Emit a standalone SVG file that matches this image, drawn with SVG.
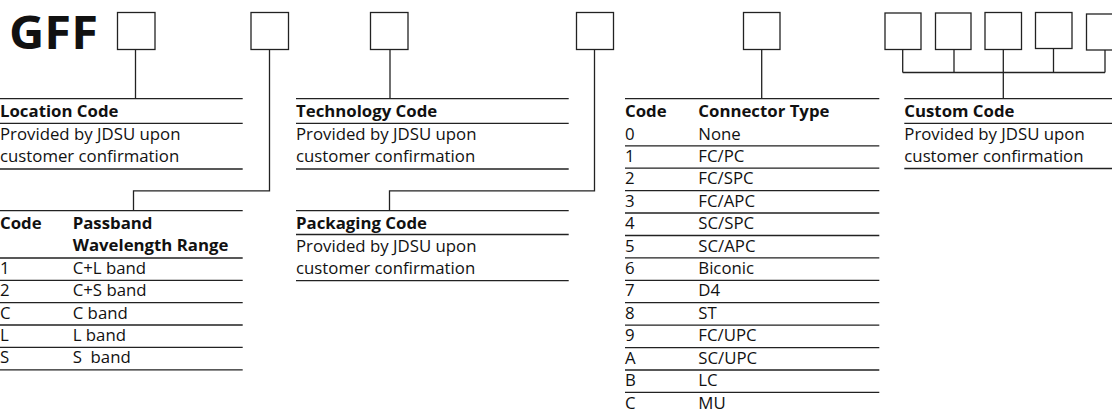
<svg xmlns="http://www.w3.org/2000/svg" width="1112" height="412" viewBox="0 0 1112 412">
<style>
text{font-family:"Open Sans","Noto Sans","Liberation Sans",sans-serif;font-size:16.8px;fill:#111}
.b{font-weight:bold}
.t{font-family:"Open Sans","Noto Sans","Liberation Sans",sans-serif;font-size:46px;font-weight:bold}
.box{fill:#fff;stroke:#222;stroke-width:1.3}
.ln{stroke:#222;stroke-width:1.3;fill:none}
</style>
<rect width="1112" height="412" fill="#fff"/>
<text class="t" x="9" y="48.5" textLength="89" lengthAdjust="spacingAndGlyphs">GFF</text>
<g id="boxes">
<rect class="box" x="117.5" y="12.5" width="37.5" height="37"/>
<rect class="box" x="251" y="12.5" width="37.5" height="37"/>
<rect class="box" x="370.5" y="12.5" width="37.5" height="37"/>
<rect class="box" x="576.5" y="12.5" width="37" height="37"/>
<rect class="box" x="743.5" y="12.5" width="36.5" height="37"/>
<rect class="box" x="885" y="13" width="36" height="36.5"/>
<rect class="box" x="935.5" y="13" width="35.5" height="36.5"/>
<rect class="box" x="985" y="12.5" width="36.5" height="37"/>
<rect class="box" x="1035.5" y="12.5" width="36.5" height="36"/>
<rect class="box" x="1086.5" y="14" width="36" height="36"/>
</g>
<g id="connectors">
<path class="ln" d="M135.5 49.5V98.7"/>
<path class="ln" d="M269.5 49.5V190.8H133.5V210.7"/>
<path class="ln" d="M390 49.5V98.7"/>
<path class="ln" d="M594.5 49.5V190.8H389.5V210.7"/>
<path class="ln" d="M761.7 49.5V98.7"/>
<path class="ln" d="M902.7 49.5V72.5M954 49.5V72.5M1003.3 49.5V98.7M1053.5 48.5V72.5M1105 50V72.5M902.7 72.5H1105"/>
</g>
<g id="location">
<path class="ln" d="M0 98.7H242.7M0 123.3H242.7M0 169H242.7"/>
<text class="b" x="0" y="116.5">Location Code</text>
<text x="0" y="139.5">Provided by JDSU upon</text>
<text x="0" y="161.5">customer confirmation</text>
</g>
<g id="technology">
<path class="ln" d="M296 98.7H568.7M296 123.3H568.7M296 169H568.7"/>
<text class="b" x="296" y="116.5">Technology Code</text>
<text x="296" y="139.5">Provided by JDSU upon</text>
<text x="296" y="161.5">customer confirmation</text>
</g>
<g id="packaging">
<path class="ln" d="M296 210.7H568.7M296 234.5H568.7M296 280.7H568.7"/>
<text class="b" x="296" y="228.5">Packaging Code</text>
<text x="296" y="251.5">Provided by JDSU upon</text>
<text x="296" y="273.5">customer confirmation</text>
</g>
<g id="custom">
<path class="ln" d="M904.3 98.7H1112M904.3 123.3H1112M904.3 168.5H1112"/>
<text class="b" x="904.3" y="116.5">Custom Code</text>
<text x="904.3" y="139.5">Provided by JDSU upon</text>
<text x="904.3" y="161.5">customer confirmation</text>
</g>
<g id="passband">
<path class="ln" d="M0 210.7H242.7M0 258H242.7M0 280.4H242.7M0 302.7H242.7M0 325H242.7M0 347.4H242.7M0 369.8H242.7"/>
<text class="b" x="0" y="229">Code</text>
<text class="b" x="72.7" y="229">Passband</text>
<text class="b" x="72.7" y="251.3">Wavelength Range</text>
<text x="0" y="274">1</text><text x="72.7" y="274">C+L band</text>
<text x="0" y="296.4">2</text><text x="72.7" y="296.4">C+S band</text>
<text x="0" y="318.7">C</text><text x="72.7" y="318.7">C band</text>
<text x="0" y="341">L</text><text x="72.7" y="341">L band</text>
<text x="0" y="363.4">S</text><text x="72.7" y="363.4" xml:space="preserve">S  band</text>
</g>
<g id="connector-type">
<path class="ln" d="M625 98.7H879.3M625 145.8H879.3M625 168.2H879.3M625 190.6H879.3M625 213H879.3M625 235.5H879.3M625 257.9H879.3M625 280.3H879.3M625 302.7H879.3M625 325.1H879.3M625 347.6H879.3M625 370H879.3M625 392.4H879.3"/>
<text class="b" x="625" y="116.5">Code</text>
<text class="b" x="698.3" y="116.5">Connector Type</text>
<text x="625" y="139.5">0</text><text x="698.3" y="139.5">None</text>
<text x="625" y="161.9">1</text><text x="698.3" y="161.9">FC/PC</text>
<text x="625" y="184.3">2</text><text x="698.3" y="184.3">FC/SPC</text>
<text x="625" y="206.7">3</text><text x="698.3" y="206.7">FC/APC</text>
<text x="625" y="229.2">4</text><text x="698.3" y="229.2">SC/SPC</text>
<text x="625" y="251.6">5</text><text x="698.3" y="251.6">SC/APC</text>
<text x="625" y="274">6</text><text x="698.3" y="274">Biconic</text>
<text x="625" y="296.4">7</text><text x="698.3" y="296.4">D4</text>
<text x="625" y="318.8">8</text><text x="698.3" y="318.8">ST</text>
<text x="625" y="341.3">9</text><text x="698.3" y="341.3">FC/UPC</text>
<text x="625" y="363.7">A</text><text x="698.3" y="363.7">SC/UPC</text>
<text x="625" y="386.1">B</text><text x="698.3" y="386.1">LC</text>
<text x="625" y="408.5">C</text><text x="698.3" y="408.5">MU</text>
</g>
</svg>
